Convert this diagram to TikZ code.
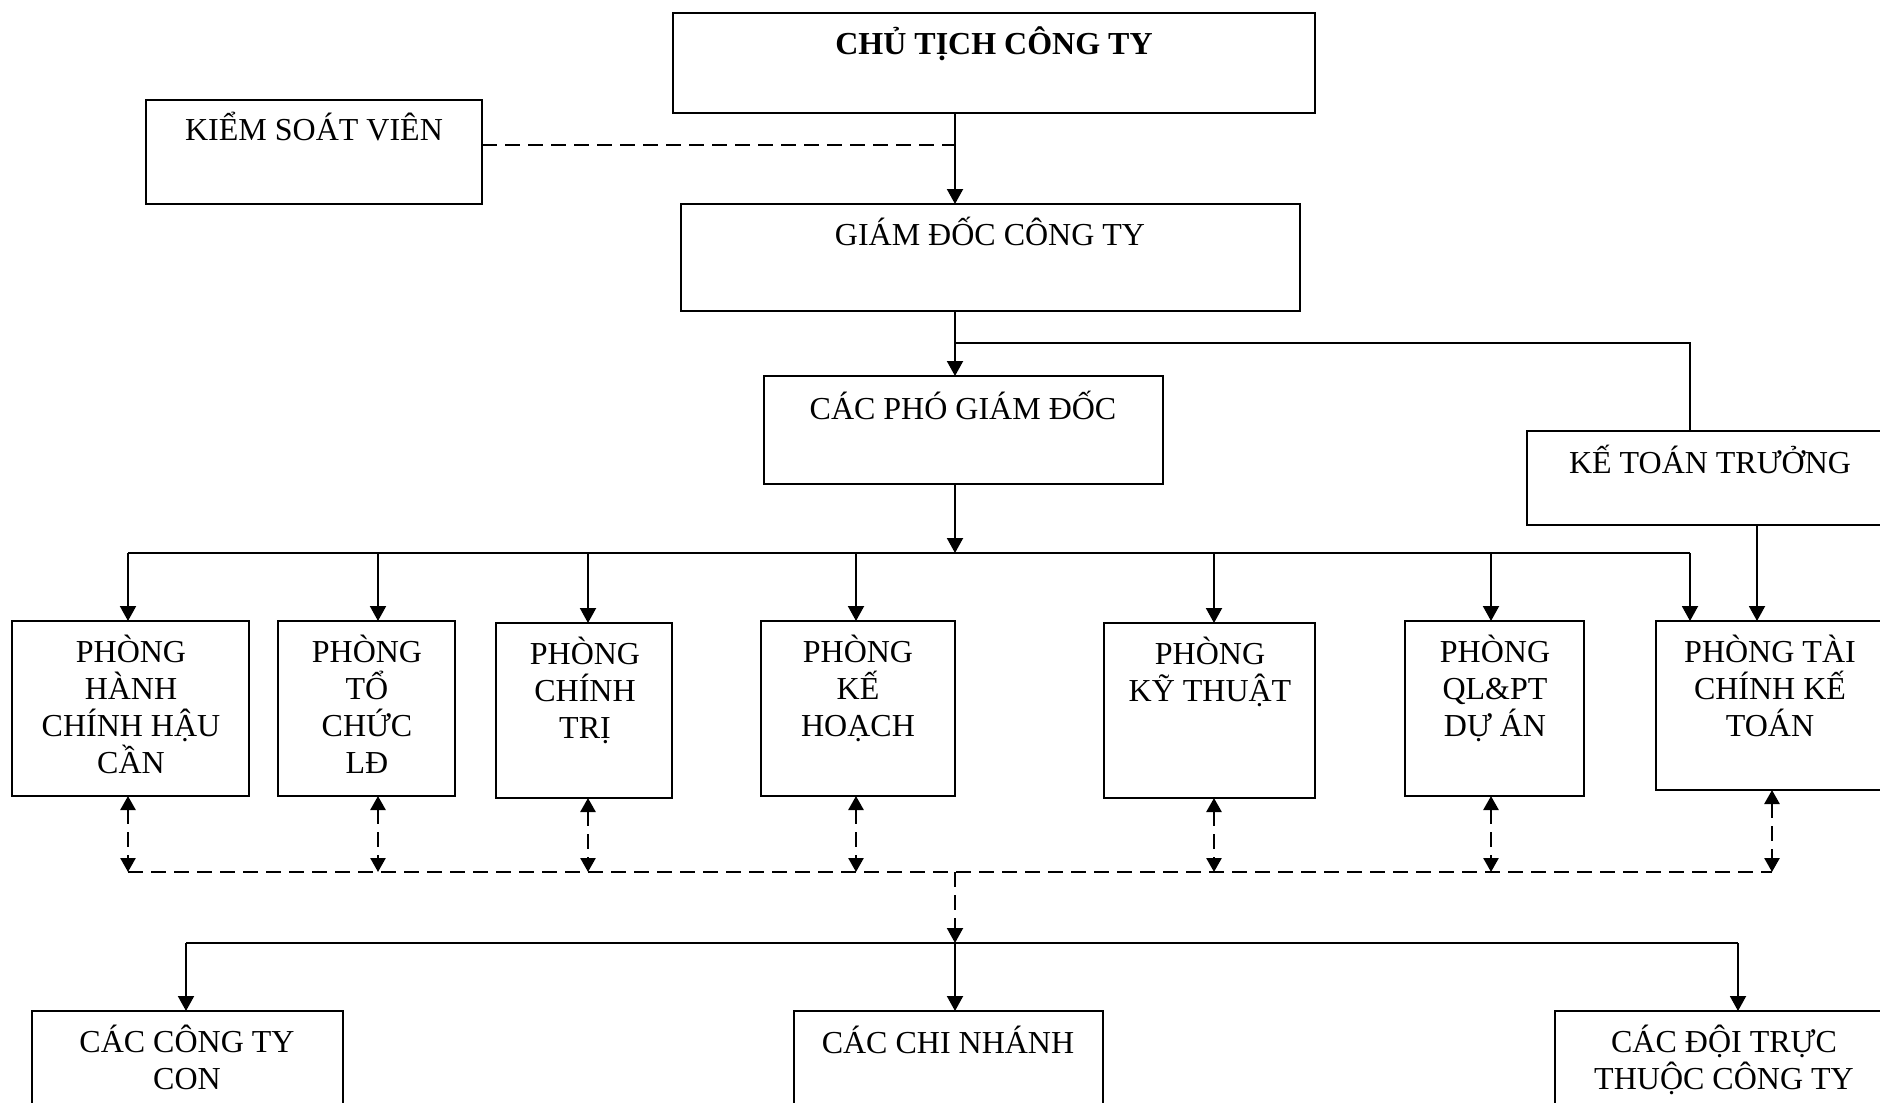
\documentclass[tikz,border=0pt]{standalone}
\usepackage{fontspec}
\setmainfont{Liberation Serif}
\usetikzlibrary{arrows.meta}
\newcommand\tstrut{\lineskiplimit=-20pt\relax\rule{0pt}{16pt}}
\newcommand\mkbox[5]{\node[box, minimum width={(#4-#2)*0.5pt}, minimum height={(#5-#3)*0.5pt}] (#1) at (#2,#3) {};}
\begin{document}
\begin{tikzpicture}[x=0.5pt,y=-0.5pt,
 box/.style={draw, line width=1.3pt, anchor=north west, inner sep=0pt, outer sep=0pt},
 txt/.style={anchor=north, align=center, inner sep=0pt, font=\fontsize{16pt}{18.5pt}\selectfont},
 con/.style={line width=1pt},
 tip/.style={-{Triangle[length=7.5pt,width=8pt]}},
 arr/.style={con, tip},
 dl/.style={con, dash pattern=on 7.5pt off 4pt},
 darr/.style={dl, line width=1.3pt, {Triangle[length=7pt,width=7.5pt]}-{Triangle[length=7pt,width=7.5pt]}}]
\clip (0,0) rectangle (1880,1103);
% boxes
\mkbox{ct}{673}{13}{1315}{113}
\mkbox{ksv}{146}{100}{482}{204}
\mkbox{gd}{681}{204}{1300}{311}
\mkbox{pgd}{764}{376}{1163}{484}
\mkbox{ktt}{1527}{431}{1895}{525}
\mkbox{p1}{12}{621}{249}{796}
\mkbox{p2}{278}{621}{455}{796}
\mkbox{p3}{496}{623}{672}{798}
\mkbox{p4}{761}{621}{955}{796}
\mkbox{p5}{1104}{623}{1315}{798}
\mkbox{p6}{1405}{621}{1584}{796}
\mkbox{p7}{1656}{621}{1884}{790}
\mkbox{b1}{32}{1011}{343}{1130}
\mkbox{b2}{794}{1011}{1103}{1130}
\mkbox{b3}{1555}{1011}{1893}{1130}
% texts
\node[txt] (ctt) at (994,22) {\tstrut\textbf{CHỦ TỊCH CÔNG TY}};
\node[txt] (ksvt) at (314,108) {\tstrut KIỂM SOÁT VIÊN};
\node[txt] (gdt) at (990,213) {\tstrut GIÁM ĐỐC CÔNG TY};
\node[txt] (pgdt) at (963,387) {\tstrut CÁC PHÓ GIÁM ĐỐC};
\node[txt] (kttt) at (1710,441) {\tstrut KẾ TOÁN TRƯỞNG};
\node[txt] (p1t) at (131,630) {\tstrut PHÒNG\\HÀNH\\CHÍNH HẬU\\CẦN};
\node[txt] (p2t) at (367,630) {\tstrut PHÒNG\\TỔ\\CHỨC\\LĐ};
\node[txt] (p3t) at (585,632) {\tstrut PHÒNG\\CHÍNH\\TRỊ};
\node[txt] (p4t) at (858,630) {\tstrut PHÒNG\\KẾ\\HOẠCH};
\node[txt] (p5t) at (1210,632) {\tstrut PHÒNG\\KỸ THUẬT};
\node[txt] (p6t) at (1495,630) {\tstrut PHÒNG\\QL\&PT\\DỰ ÁN};
\node[txt] (p7t) at (1770,630) {\tstrut PHÒNG TÀI\\CHÍNH KẾ\\TOÁN};
\node[txt] (b1t) at (187,1020) {\tstrut CÁC CÔNG TY\\CON};
\node[txt] (b2t) at (948,1021) {\tstrut CÁC CHI NHÁNH};
\node[txt] (b3t) at (1724,1020) {\tstrut CÁC ĐỘI TRỰC\\THUỘC CÔNG TY};
% connectors
\coordinate (sx) at (955,0);
\draw[arr] (ct.south -| sx) -- (gd.north -| sx);
\coordinate (k1) at (955,145);
\draw[dl] (ksv.east |- k1) -- (k1);
\draw[arr] (gd.south -| sx) -- (pgd.north -| sx);
\coordinate (g1) at (955,343);
\coordinate (g2) at (1690,343);
\draw[con] (g1) -- (g2) -- (ktt.north -| g2);
\coordinate (bus) at (955,553);
\draw[arr] (pgd.south -| sx) -- (bus);
\coordinate (busL) at (128,553);
\coordinate (busR) at (1690,553);
\draw[con] (busL) -- (busR);
\foreach \n/\x in {p1/128,p2/378,p3/588,p4/856,p5/1214,p6/1491,p7/1690}{
  \coordinate (t) at (\x,553);
  \draw[arr] (t) -- (t |- \n.north);
}
\coordinate (kt) at (1757,0);
\draw[arr] (ktt.south -| kt) -- (p7.north -| kt);
% dashed links
\foreach \n/\x in {p1/128,p2/378,p3/588,p4/856,p5/1214,p6/1491,p7/1772}{
  \coordinate (t) at (\x,872);
  \draw[darr] (t |- \n.south) -- (t);
}
\coordinate (dL) at (128,872);
\coordinate (dR) at (1772,872);
\coordinate (dM) at (955,872);
\draw[dl, line width=1.2pt] (dL) -- (dR);
\coordinate (lb) at (955,943);
\draw[dl, tip] (dM) -- (lb);
\coordinate (lbL) at (186,943);
\coordinate (lbR) at (1738,943);
\draw[con] (lbL) -- (lbR);
\draw[arr] (lbL) -- (lbL |- b1.north);
\draw[arr] (lb) -- (lb |- b2.north);
\draw[arr] (lbR) -- (lbR |- b3.north);
\end{tikzpicture}
\end{document}
